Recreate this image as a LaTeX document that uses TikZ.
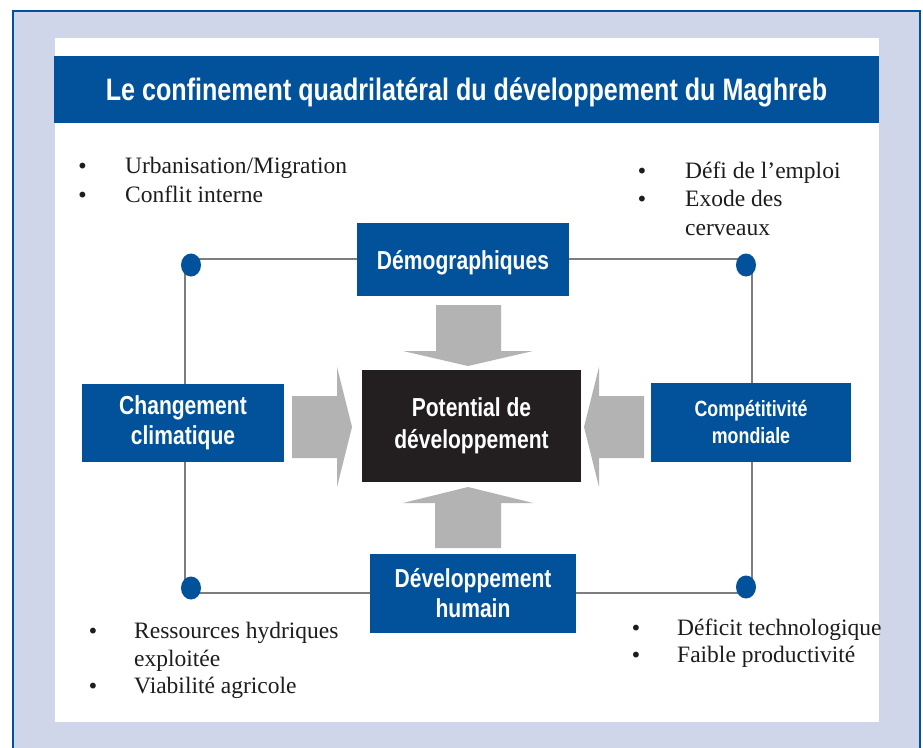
\documentclass[tikz,border=0pt]{standalone}
\usepackage{fontspec}
\setmainfont{Liberation Serif}
\newfontfamily\cond{Liberation Sans}[FakeStretch=0.81]
\newfontfamily\bulfont{DejaVu Sans}
\usetikzlibrary{shapes.geometric}
\definecolor{blueb}{RGB}{2,82,155}
\definecolor{lav}{RGB}{208,214,234}
\definecolor{arrowgray}{RGB}{179,179,179}
\definecolor{framegray}{RGB}{125,125,125}
\definecolor{darkbox}{RGB}{35,31,32}
\definecolor{txt}{RGB}{30,28,29}
\tikzset{
  bluebox/.style={rectangle, fill=blueb, text=white, inner sep=0pt, align=center,
    font=\cond\bfseries\fontsize{26}{30}\selectfont},
  darkboxst/.style={rectangle, fill=darkbox, text=white, inner sep=0pt, align=center,
    font=\cond\bfseries\fontsize{26}{32}\selectfont},
  dot/.style={ellipse, fill=blueb, inner sep=0pt, minimum width=20pt, minimum height=23pt},
  fatarrow/.style={fill=arrowgray},
  frameline/.style={draw=framegray, line width=2.8pt},
  item/.style={anchor=base west, inner sep=0pt, text=txt, font=\fontsize{23.5}{28}\selectfont},
  bul/.style={anchor=base, inner sep=0pt, text=txt, font=\bulfont\fontsize{20}{20}\selectfont}
}
\begin{document}
\begin{tikzpicture}[x=1pt,y=-1pt]
\useasboundingbox (0,0) rectangle (923,747);
\begin{scope}
\clip (0,0) rectangle (923,747);
\fill[white] (0,0) rectangle (923,747);
\draw[draw=blueb, line width=2.5pt, fill=lav] (13,11) rectangle (920,770);
\end{scope}
\fill[white] (55,38) rectangle (879,722);
% title
\node[rectangle, fill=blueb, text=white, inner sep=0pt, minimum width=825pt, minimum height=67pt,
  text height=30pt, text depth=9pt, font=\cond\bfseries\fontsize{31}{36}\selectfont]
  (title) at (466.5,89.5) {Le confinement quadrilatéral du développement du Maghreb};
% frame
\coordinate (tl) at (185,259);
\coordinate (tr) at (752,259);
\coordinate (br) at (752,593);
\coordinate (bl) at (185,593);
\draw[frameline] (tl) -- (tr) -- (br) -- (bl) -- cycle;
\node[dot] (dtl) at (191,265) {};
\node[dot] (dtr) at (746,265) {};
\node[dot] (dbl) at (191,588) {};
\node[dot] (dbr) at (746,587) {};
% arrows
\fill[fatarrow] (436,305) -- (501,305) -- (501,351) -- (533,351) -- (468,366) -- (403,351) -- (436,351) -- cycle;
\fill[fatarrow] (435,548) -- (501,548) -- (501,503) -- (533,503) -- (468,487) -- (403,503) -- (435,503) -- cycle;
\fill[fatarrow] (292,396) -- (337,396) -- (337,367) -- (352,427) -- (337,487) -- (337,458) -- (292,458) -- cycle;
\fill[fatarrow] (644,396) -- (599,396) -- (599,367) -- (584,427) -- (599,487) -- (599,458) -- (644,458) -- cycle;
% boxes
\node[bluebox, minimum width=212pt, minimum height=73pt, text height=27pt, text depth=8pt] (dem) at (463,259.5) {Démographiques};
\node[bluebox, minimum width=202pt, minimum height=78pt] (chg) at (183,423) {Changement\\climatique};
\node[bluebox, minimum width=200pt, minimum height=79pt, font=\cond\bfseries\fontsize{22}{27}\selectfont] (comp) at (751,422.5) {Compétitivité\\mondiale};
\node[bluebox, minimum width=206pt, minimum height=79pt] (dev) at (473,593.5) {Développement\\humain};
\node[darkboxst, minimum width=219pt, minimum height=112pt] (pot) at (471.5,426) {Potential de\\développement};
% lists
\node[bul] (b1) at (82.5,173) {•};
\node[item] (t1) at (125,173) {Urbanisation/Migration};
\node[bul] (b2) at (82.5,202) {•};
\node[item] (t2) at (125,202) {Conflit interne};
\node[bul] (b3) at (642,178) {•};
\node[item] (t3) at (685,178) {Défi de l’emploi};
\node[bul] (b4) at (642,206) {•};
\node[item] (t4) at (685,206) {Exode des};
\node[item] (t5) at (685,235) {cerveaux};
\node[bul] (b5) at (93,638) {•};
\node[item] (t6) at (134,638) {Ressources hydriques};
\node[item] (t7) at (134,666) {exploitée};
\node[bul] (b6) at (93,693) {•};
\node[item] (t8) at (134,693) {Viabilité agricole};
\node[bul] (b7) at (636,635) {•};
\node[item] (t9) at (677,635) {Déficit technologique};
\node[bul] (b8) at (636,662) {•};
\node[item] (t10) at (677,662) {Faible productivité};
\end{tikzpicture}
\end{document}
